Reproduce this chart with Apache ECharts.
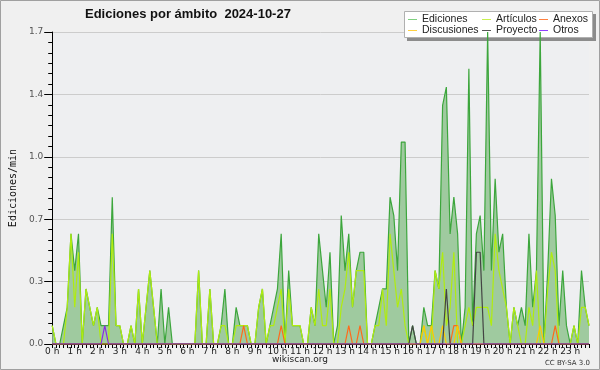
<!DOCTYPE html>
<html><head><meta charset="utf-8">
<script src="https://cdn.jsdelivr.net/npm/echarts@6/dist/echarts.min.js"></script>
<style>html,body{margin:0;padding:0;background:#f0f0f0}#c{width:600px;height:370px}</style>
</head><body><div id="c"></div>
<script>
// Tick labels (one per hour)
const hourLabels = ["0 h","1 h","2 h","3 h","4 h","5 h","6 h","7 h","8 h","9 h","10 h","11 h","12 h","13 h","14 h","15 h","16 h","17 h","18 h","19 h","20 h","21 h","22 h","23 h"];
// 10-minute slots of the day
const slots = [];
for (let h = 0; h < 24; h++) for (let m = 0; m < 60; m += 10) slots.push(h + ":" + (m < 10 ? "0" + m : m));

// Edits per minute, one value per 10-minute slot
const ediciones = [
0.1,0,0,0.1,0.2,0.6,0.4,0.6,0,0.3,0.2,0.1,
0.2,0.1,0.1,0.1,0.8,0.1,0.1,0,0,0.1,0,0.3,
0,0.2,0.4,0.2,0,0.3,0,0.2,0,0,0,0,
0,0,0,0.4,0,0,0.3,0,0,0.1,0.3,0,
0,0.2,0.1,0.1,0.1,0,0,0.2,0.3,0,0.1,0.2,
0.3,0.6,0,0.4,0.1,0.1,0.1,0,0,0.2,0.1,0.6,
0.4,0.2,0.5,0,0.1,0.7,0.4,0.6,0.2,0.4,0.5,0.5,
0,0,0.1,0.2,0.3,0.3,0.8,0.7,0.4,1.1,1.1,0,
0.1,0,0,0.2,0.1,0.1,0.4,0.3,1.3,1.4,0.6,0.8,
0.6,0,0.2,1.5,0.1,0.6,0.7,0.4,1.7,0.4,0.9,0.5,
0.6,0.2,0,0.2,0.1,0.2,0.1,0.6,0.2,0.4,1.7,0,
0.4,0.9,0.7,0.1,0.4,0.1,0,0.1,0,0.4,0.2,0.1];
const articulos = [
0.1,0,0,0,0.2,0.6,0.2,0.5,0,0.3,0.2,0.1,
0.2,0,0,0,0.6,0.1,0.1,0,0,0.1,0,0.3,
0,0.2,0.4,0.2,0,0,0,0,0,0,0,0,
0,0,0,0.4,0,0,0.3,0,0,0.1,0.1,0,
0,0.1,0.1,0.1,0.1,0,0,0.2,0.3,0,0.1,0.1,
0.2,0.3,0,0.3,0.1,0.1,0.1,0,0,0.2,0.1,0.3,
0.1,0.1,0.3,0,0,0.2,0.3,0.5,0.2,0.4,0.4,0.4,
0,0,0.1,0.1,0.3,0.1,0.6,0.4,0.2,0.3,0.1,0,
0,0,0,0.1,0,0,0.4,0.3,0.5,0.1,0.2,0.5,
0,0,0.1,0.2,0.1,0.2,0.2,0.2,0.2,0.1,0.6,0.4,
0.3,0.2,0,0.2,0.1,0,0,0.2,0.1,0.4,0,0,
0.3,0.5,0.4,0,0,0,0,0.1,0,0.2,0.2,0.1];
const anexos = [
0,0,0,0,0,0,0,0,0,0,0,0,
0,0,0,0,0,0,0,0,0,0,0,0,
0,0,0,0,0,0,0,0,0,0,0,0,
0,0,0,0,0,0,0,0,0,0,0,0,
0,0,0,0.1,0,0,0,0,0,0,0,0,
0,0.1,0,0,0,0,0,0,0,0,0,0,
0,0,0,0,0,0,0,0.1,0,0,0.1,0,
0,0,0,0,0,0,0,0,0,0,0,0,
0,0,0,0,0,0,0,0,0,0,0,0.1,
0.1,0,0,0,0,0,0,0,0,0,0,0,
0,0,0,0,0,0,0,0,0,0,0,0,
0,0,0.1,0,0,0,0,0,0,0,0,0];
const discusiones = [
0,0,0,0,0,0,0,0,0,0,0,0,
0,0,0,0,0,0,0,0,0,0,0,0,
0,0,0,0,0,0,0,0,0,0,0,0,
0,0,0,0,0,0,0,0,0,0,0,0,
0,0,0,0,0,0,0,0,0,0,0,0,
0,0,0,0,0,0,0,0,0,0,0,0,
0,0,0,0,0,0,0,0,0,0,0,0,
0,0,0,0,0,0,0,0,0,0,0,0,
0,0,0,0.1,0,0.1,0,0,0.1,0,0,0,
0.1,0,0,0,0,0,0,0,0,0,0,0,
0,0,0,0,0,0,0,0,0,0,0.1,0,
0,0,0,0,0,0,0,0,0,0,0,0];
const proyecto = [
0,0,0,0,0,0,0,0,0,0,0,0,
0,0,0,0,0,0,0,0,0,0,0,0,
0,0,0,0,0,0,0,0,0,0,0,0,
0,0,0,0,0,0,0,0,0,0,0,0,
0,0,0,0,0,0,0,0,0,0,0,0,
0,0,0,0,0,0,0,0,0,0,0,0,
0,0,0,0,0,0,0,0,0,0,0,0,
0,0,0,0,0,0,0,0,0,0,0,0,
0.1,0,0,0,0,0,0,0,0,0.3,0,0,
0,0,0,0,0,0.5,0.5,0,0,0,0,0,
0,0,0,0,0,0,0,0,0,0,0,0,
0,0,0,0,0,0,0,0,0,0,0,0];
const otros = [
0,0,0,0,0,0,0,0,0,0,0,0,
0,0,0.1,0,0,0,0,0,0,0,0,0,
0,0,0,0,0,0,0,0,0,0,0,0,
0,0,0,0,0,0,0,0,0,0,0,0,
0,0,0,0,0,0,0,0,0,0,0,0,
0,0,0,0,0,0,0,0,0,0,0,0,
0,0,0,0,0,0,0,0,0,0,0,0,
0,0,0,0,0,0,0,0,0,0,0,0,
0,0,0,0,0,0,0,0,0,0,0,0,
0,0,0,0,0,0,0,0,0,0,0,0,
0,0,0,0,0,0,0,0,0,0,0,0,
0,0,0,0,0,0,0,0,0,0,0,0];

const colors = {ed:'#3ca63c', art:'#b0ec10', anx:'#ff6a1a', dis:'#ffc800', pro:'#444444', otr:'#8a2be2'};
const legendColors = {ed:'#7fd07f', art:'#c8f050', anx:'#ff8040', dis:'#ffd040', pro:'#555555', otr:'#9040ff'};

const chart = echarts.init(document.getElementById('c'), null, {renderer:'canvas'});
function line(name, data, color, legColor, extra) {
  return Object.assign({
    name, type:'line', data, showSymbol:false, symbol:'none',
    lineStyle:{color, width:1.2}, itemStyle:{color:legColor}, animation:false, silent:true
  }, extra || {});
}
const legendText = {fontFamily:'Liberation Sans', fontSize:10.5, color:'#222', lineHeight:10};
function leg(names, left) {
  return {data:names, orient:'vertical', left, top:14, itemGap:0, itemWidth:9, itemHeight:1,
    icon:'rect', textStyle:legendText, padding:0, selectedMode:false, itemStyle:{borderWidth:0}, z:10};
}
chart.setOption({
  backgroundColor:'#f0f0f0',
  animation:false,
  title:{text:'Ediciones por ámbito  2024-10-27', left:85, top:8, padding:0,
    textStyle:{fontFamily:'Liberation Sans', fontWeight:'bold', fontSize:13, color:'#111'}},
  legend:[leg(['Ediciones','Discusiones'],408), leg(['Artículos','Proyecto'],482), leg(['Anexos','Otros'],539)],
  grid:{left:46, top:32, width:543, height:312, show:true, backgroundColor:'#eeeff1', borderWidth:0},
  xAxis:{type:'category', data:slots, boundaryGap:false,
    axisLine:{lineStyle:{color:'#000', width:1}},
    axisTick:{interval:0, length:4, lineStyle:{color:'#000'}},
    axisLabel:{interval:5, margin:3, fontFamily:'DejaVu Sans', fontSize:9, color:'#222',
      formatter:(v, i) => hourLabels[Math.round(i/6)]},
    splitLine:{show:false}},
  yAxis:{type:'value', min:0, max:1.7, interval:0.34,
    name:'Ediciones/min', nameLocation:'middle', nameGap:31, nameRotate:90,
    nameTextStyle:{fontFamily:'DejaVu Sans Mono', fontSize:10, color:'#111'},
    axisLine:{show:true, lineStyle:{color:'#000', width:1}},
    axisTick:{show:true, length:8, lineStyle:{color:'#000'}},
    minorTick:{show:true, splitNumber:6, length:4, lineStyle:{color:'#000'}},
    axisLabel:{margin:9, fontFamily:'DejaVu Sans', fontSize:9, color:'#555', formatter:v => v.toFixed(1)},
    splitLine:{show:true, lineStyle:{color:'#cccccc', width:1}}},
  graphic:[
    {type:'rect', shape:{x:0.5, y:0.5, width:599, height:369}, style:{fill:'none', stroke:'#a0a0a0', lineWidth:1}, z:100},
    {type:'rect', shape:{x:407, y:14, width:189, height:27}, style:{fill:'#8c8c8c'}, z:1},
    {type:'rect', shape:{x:404.5, y:11.5, width:188, height:26}, style:{fill:'#fff', stroke:'#b0b0b0', lineWidth:1}, z:2},
    {type:'text', left:'center', top:355, style:{text:'wikiscan.org', fontFamily:'DejaVu Sans', fontSize:9, fill:'#222'}},
    {type:'text', right:10, top:360, style:{text:'CC BY-SA 3.0', fontFamily:'DejaVu Sans', fontSize:7, fill:'#333'}}
  ],
  series:[
    line('Ediciones', ediciones, colors.ed, legendColors.ed, {areaStyle:{color:'#9fca9f', opacity:1}, z:2}),
    line('Artículos', articulos, colors.art, legendColors.art, {z:3}),
    line('Anexos', anexos, colors.anx, legendColors.anx, {z:4}),
    line('Discusiones', discusiones, colors.dis, legendColors.dis, {z:4}),
    line('Proyecto', proyecto, colors.pro, legendColors.pro, {z:4}),
    line('Otros', otros, colors.otr, legendColors.otr, {z:4})
  ]
});
</script></body></html>
